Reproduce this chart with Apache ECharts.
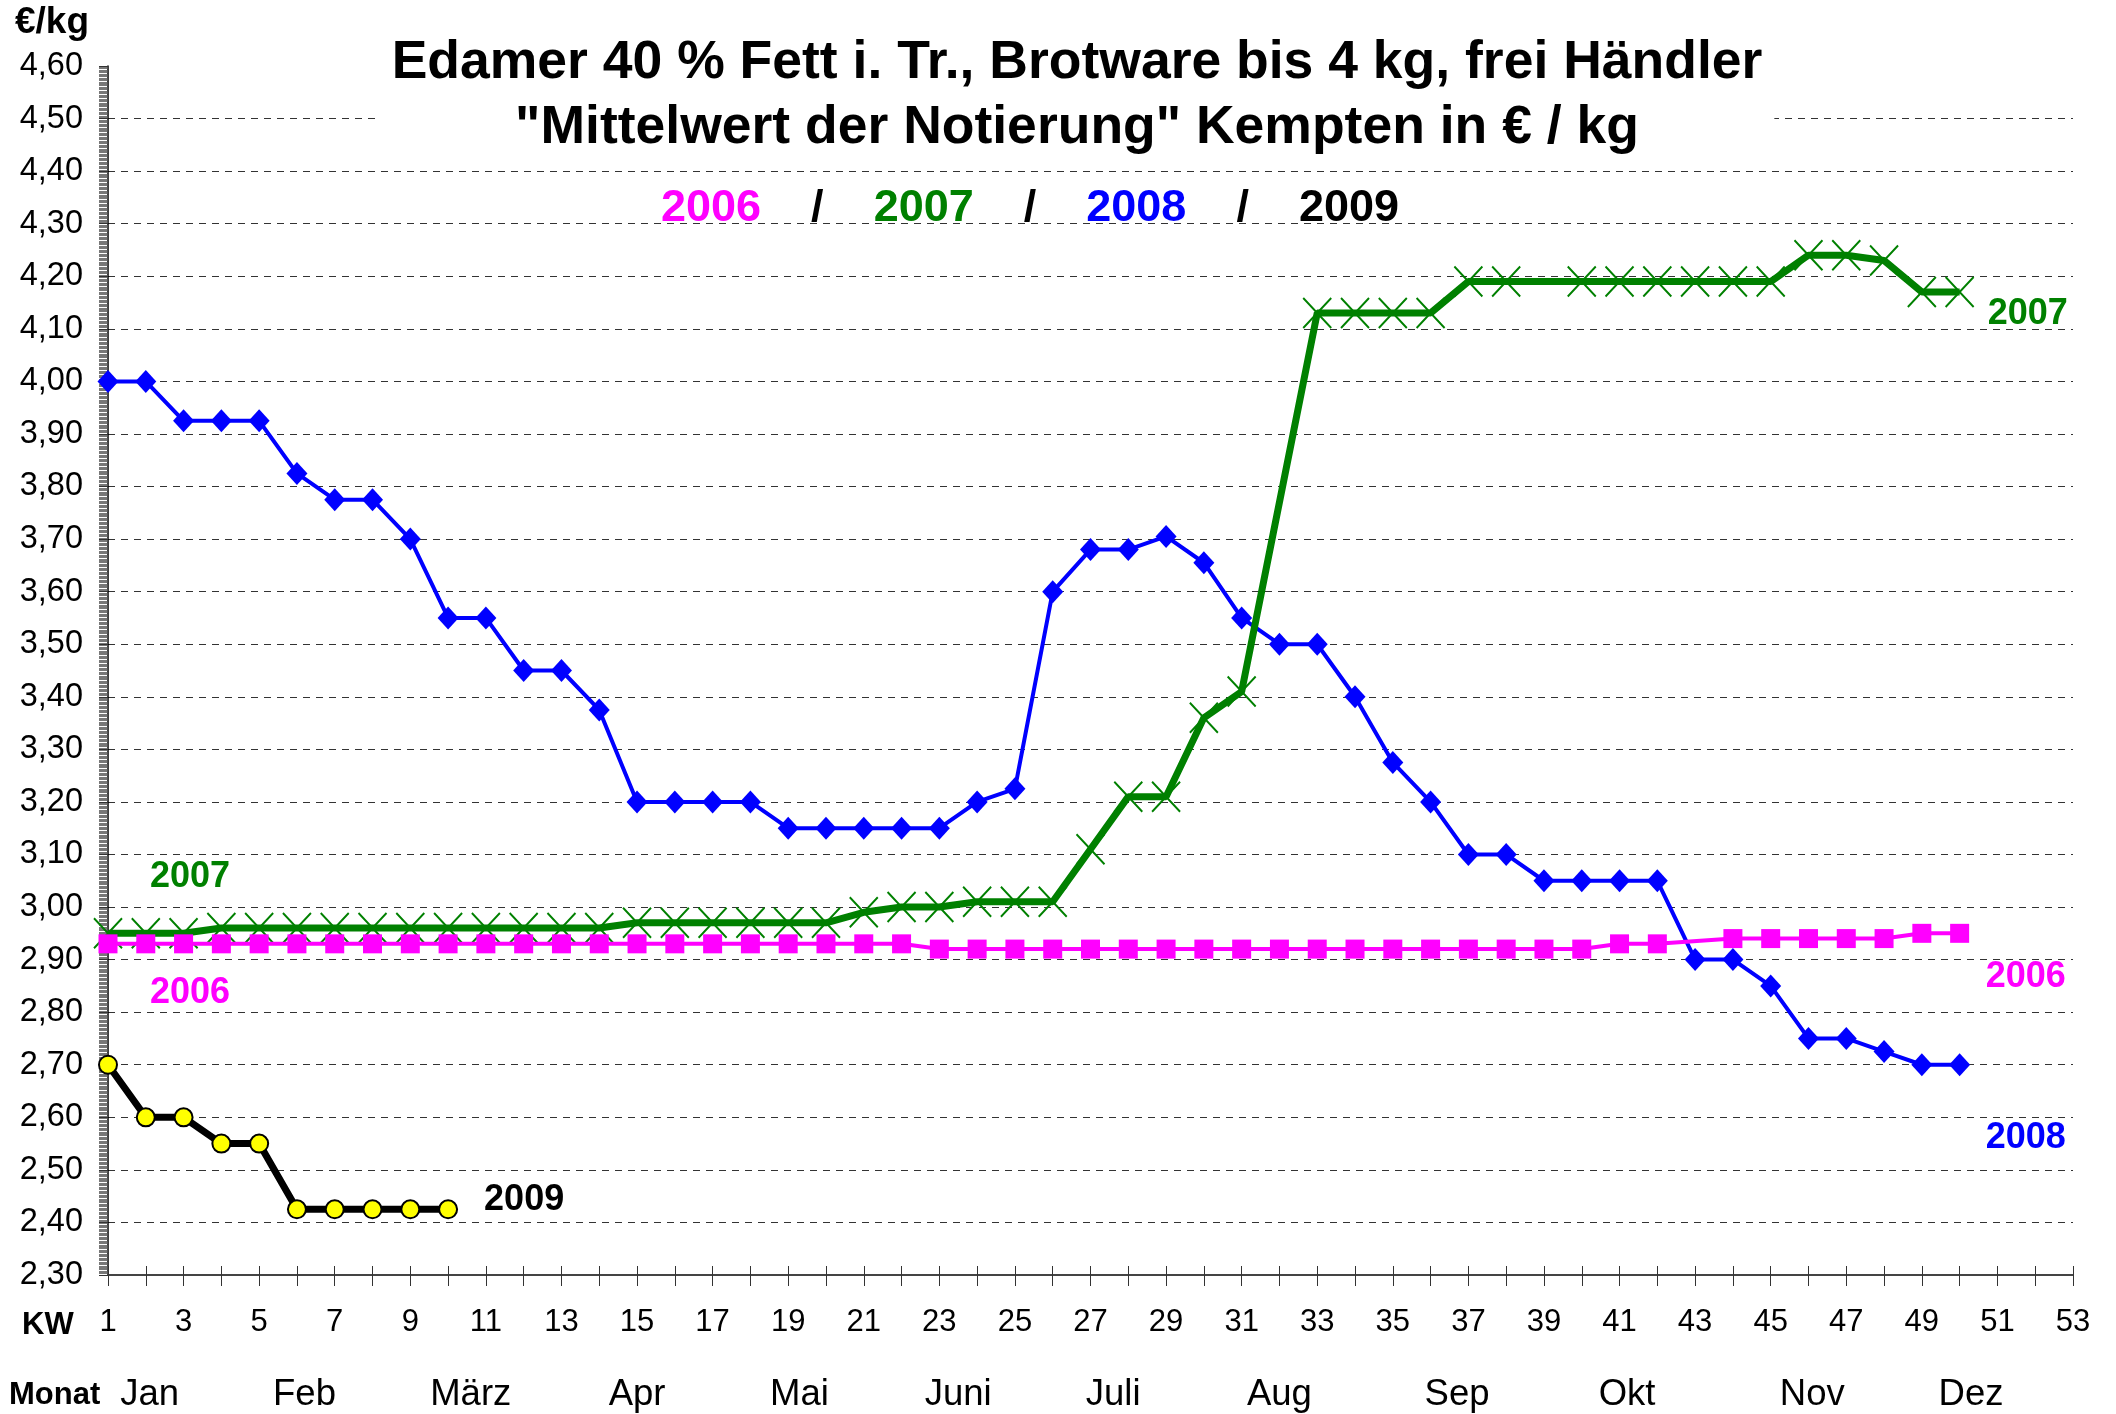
<!DOCTYPE html>
<html>
<head>
<meta charset="utf-8">
<script src="https://cdn.jsdelivr.net/npm/echarts@6/dist/echarts.min.js"></script>
<style>
html,body{margin:0;padding:0;background:#fff;}
#chart{width:2116px;height:1414px;}
</style>
</head>
<body>
<div id="chart"></div>
<script>
// ---- data ----
const weeks = [1,2,3,4,5,6,7,8,9,10,11,12,13,14,15,16,17,18,19,20,21,22,23,24,25,26,27,28,29,30,31,32,33,34,35,36,37,38,39,40,41,42,43,44,45,46,47,48,49,50];
const values2006 = [2.93,2.93,2.93,2.93,2.93,2.93,2.93,2.93,2.93,2.93,2.93,2.93,2.93,2.93,2.93,2.93,2.93,2.93,2.93,2.93,2.93,2.93,
  2.92,2.92,2.92,2.92,2.92,2.92,2.92,2.92,2.92,2.92,2.92,2.92,2.92,2.92,2.92,2.92,2.92,2.92,
  2.93,2.93,null,2.94,2.94,2.94,2.94,2.94,2.95,2.95];
const values2007 = [2.95,2.95,2.95,2.96,2.96,2.96,2.96,2.96,2.96,2.96,2.96,2.96,2.96,2.96,2.97,2.97,2.97,2.97,2.97,2.97,
  2.99,3.00,3.00,3.01,3.01,3.01,3.11,3.21,3.21,3.36,3.41,null,4.13,4.13,4.13,4.13,4.19,4.19,null,4.19,
  4.19,4.19,4.19,4.19,4.19,4.24,4.24,4.23,4.17,4.17];
const values2008 = [4.00,4.00,3.925,3.925,3.925,3.825,3.775,3.775,3.70,3.55,
  3.55,3.45,3.45,3.375,3.20,3.20,3.20,3.20,3.15,3.15,
  3.15,3.15,3.15,3.20,3.225,3.60,3.68,3.68,3.705,3.655,
  3.55,3.50,3.50,3.40,3.275,3.20,3.10,3.10,3.05,3.05,
  3.05,3.05,2.90,2.90,2.85,2.75,2.75,2.725,2.70,2.70];
const values2009 = [2.70,2.60,2.60,2.55,2.55,2.425,2.425,2.425,2.425,2.425];
const yearNames = ['2006','2007','2008','2009'];
const monthNames = ['Jan','Feb','März','Apr','Mai','Juni','Juli','Aug','Sep','Okt','Nov','Dez'];
const monthWeeks = [2.1,6.2,10.6,15.0,19.3,23.5,27.6,32.0,36.7,41.2,46.1,50.3];
const titleLines = ['Edamer 40 % Fett i. Tr., Brotware bis 4 kg, frei Händler', '"Mittelwert der Notierung" Kempten in € / kg'];

const FONT = '"Liberation Sans", Arial, sans-serif';
const C06 = '#FF00FF', C07 = '#008000', C08 = '#0000FF', C09 = '#000000';

function pairs(vals){ return vals.map((v,i)=>[weeks[i], v]); }

const chart = echarts.init(document.getElementById('chart'), null, {renderer:'canvas'});

const gridPos = {left:108, right:43, top:66, bottom:139};

const option = {
  animation:false,
  backgroundColor:'#ffffff',
  title:[
    {
      text: titleLines.join('\n'),
      left: 1065, top: 31, textAlign:'center',
      backgroundColor:'#ffffff',
      padding:[0,12,6,12],
      textStyle:{fontFamily:FONT, fontWeight:'bold', fontSize:53.5, lineHeight:65, color:'#000'},
      z: 10
    },
    {
      text: '{a|'+yearNames[0]+'}{s|    /    }{b|'+yearNames[1]+'}{s|    /    }{c|'+yearNames[2]+'}{s|    /    }{d|'+yearNames[3]+'}',
      left: 1030, top: 186, textAlign:'center',
      padding:0,
      textStyle:{
        fontFamily:FONT, fontWeight:'bold', fontSize:45,
        rich:{
          a:{color:C06, fontFamily:FONT, fontWeight:'bold', fontSize:45},
          b:{color:C07, fontFamily:FONT, fontWeight:'bold', fontSize:45},
          c:{color:C08, fontFamily:FONT, fontWeight:'bold', fontSize:45},
          d:{color:C09, fontFamily:FONT, fontWeight:'bold', fontSize:45},
          s:{color:'#000', fontFamily:FONT, fontWeight:'bold', fontSize:45}
        }
      },
      z: 10
    }
  ],
  grid: gridPos,
  xAxis:[
    {
      type:'value', min:1, max:53, interval:1,
      axisLine:{show:true, onZero:false, lineStyle:{color:'#444', width:2}},
      axisTick:{show:true, length:11, lineStyle:{color:'#333', width:1}},
      axisLabel:{
        show:true, margin:32, color:'#000', fontFamily:FONT, fontSize:31,
        showMinLabel:true, showMaxLabel:true, hideOverlap:false,
        formatter:function(v){ return (Math.round(v)%2===1) ? String(Math.round(v)) : ''; }
      },
      splitLine:{show:false}
    },
    {
      type:'value', min:1, max:53, interval:1, position:'bottom',
      axisLine:{show:false},
      axisTick:{show:true, inside:true, length:9, lineStyle:{color:'#333', width:1}},
      axisLabel:{show:false},
      splitLine:{show:false}
    },
    {
      type:'value', min:1, max:53, position:'bottom', offset:0,
      axisLine:{show:false},
      axisTick:{show:false},
      axisLabel:{
        show:true, margin:101, color:'#000', fontFamily:FONT, fontSize:36.5,
        customValues: monthWeeks,
        formatter:function(v){
          let best=0, d=1e9;
          monthWeeks.forEach((m,i)=>{ if(Math.abs(m-v)<d){d=Math.abs(m-v);best=i;} });
          return monthNames[best];
        }
      },
      splitLine:{show:false}
    }
  ],
  yAxis:{
    type:'value', min:2.3, max:4.6, interval:0.1,
    axisLine:{show:true, lineStyle:{color:'#000', width:1.5}},
    axisTick:{show:true, length:9, lineStyle:{color:'#333'}},
    minorTick:{show:true, splitNumber:40, length:9, lineStyle:{color:'#555', width:0.8}},
    axisLabel:{
      margin:25, color:'#000', fontFamily:FONT, fontSize:32.5,
      formatter:function(v){ return v.toFixed(2).replace('.', ','); }
    },
    splitLine:{show:true, showMaxLine:false, showMinLine:false, lineStyle:{color:'#333', width:1, type:[7,6]}}
  },
  graphic:[
    {type:'text', left:15, top:4, style:{text:'€/kg', fontSize:37, fontWeight:'bold', fontFamily:FONT, fill:'#000'}},
    {type:'text', left:22, top:1310, style:{text:'KW', fontSize:31, fontWeight:'bold', fontFamily:FONT, fill:'#000'}},
    {type:'text', left:9, top:1380, style:{text:'Monat', fontSize:31, fontWeight:'bold', fontFamily:FONT, fill:'#000'}}
  ],
  series:[
    {
      name:yearNames[1], type:'line', data:pairs(values2007), z:3,
      connectNulls:true, showAllSymbol:true,
      symbol:'path://M0,0L10,10M10,0L0,10', symbolSize:[28,30], symbolKeepAspect:false,
      itemStyle:{color:'rgba(0,0,0,0)', borderColor:C07, borderWidth:2},
      lineStyle:{color:C07, width:7},
      endLabel:{show:true, formatter:'{a}', offset:[20,22], color:C07, fontFamily:FONT, fontWeight:'bold', fontSize:36},
      markPoint:{
        symbol:'circle', symbolSize:0, silent:true,
        data:[{coord:[3.17, 3.057], label:{show:true, position:'inside', formatter:yearNames[1], color:C07, fontFamily:FONT, fontWeight:'bold', fontSize:36}}]
      }
    },
    {
      name:yearNames[2], type:'line', data:pairs(values2008), z:2,
      showAllSymbol:true,
      symbol:'diamond', symbolSize:[21,23],
      itemStyle:{color:C08},
      lineStyle:{color:C08, width:4},
      endLabel:{show:true, formatter:'{a}', offset:[18,73], color:C08, fontFamily:FONT, fontWeight:'bold', fontSize:36}
    },
    {
      name:yearNames[0], type:'line', data:pairs(values2006), z:4,
      connectNulls:true, showAllSymbol:true,
      symbol:'rect', symbolSize:[19,19],
      itemStyle:{color:C06},
      lineStyle:{color:C06, width:4},
      endLabel:{show:true, formatter:'{a}', offset:[18,44], color:C06, fontFamily:FONT, fontWeight:'bold', fontSize:36},
      markPoint:{
        symbol:'circle', symbolSize:0, silent:true,
        data:[{coord:[3.17, 2.836], label:{show:true, position:'inside', formatter:yearNames[0], color:C06, fontFamily:FONT, fontWeight:'bold', fontSize:36}}]
      }
    },
    {
      name:yearNames[3], type:'line', data:pairs(values2009), z:5,
      showAllSymbol:true,
      symbol:'circle', symbolSize:18,
      itemStyle:{color:'#FFFF00', borderColor:'#000', borderWidth:2},
      lineStyle:{color:C09, width:7},
      endLabel:{show:true, formatter:'{a}', offset:[28,-9], color:C09, fontFamily:FONT, fontWeight:'bold', fontSize:36}
    }
  ]
};
chart.setOption(option);
</script>
</body>
</html>
